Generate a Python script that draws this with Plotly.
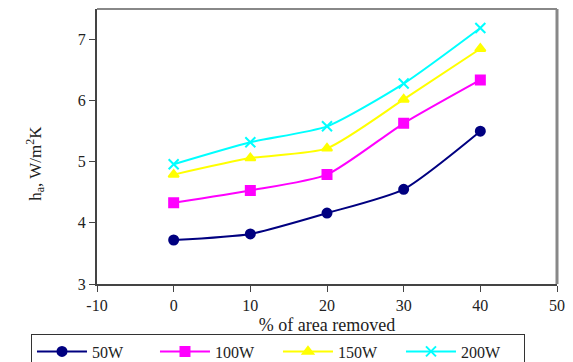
import plotly.graph_objects as go

x_vals = [0, 10, 20, 30, 40]
s50 = [3.72, 3.82, 4.16, 4.55, 5.50]
s100 = [4.33, 4.53, 4.79, 5.63, 6.34]
s150 = [4.79, 5.06, 5.22, 6.02, 6.85]
s200 = [4.96, 5.32, 5.58, 6.28, 7.19]
names = ["50W", "100W", "150W", "200W"]
colors = ["#000080", "#FF00FF", "#FFFF00", "#00FFFF"]
symbols = ["circle", "square", "triangle-up", "x-thin"]
series = [s50, s100, s150, s200]
x_ticks = [-10, 0, 10, 20, 30, 40, 50]
x_ticklabels = ["-10", "0", "10", "20", "30", "40", "50"]
y_ticks = [3, 4, 5, 6, 7]

SERIF = "Times New Roman, Liberation Serif, serif"

fig = go.Figure()
for n, c, s, y in zip(names, colors, symbols, series):
    fig.add_trace(go.Scatter(
        x=x_vals, y=y, name=n, mode="lines+markers",
        line=dict(color=c, width=2, shape="spline", smoothing=0.6),
        marker=dict(symbol=s, size=9 if s != "x-thin" else 10, color=c,
                    line=dict(color=c, width=2)),
    ))

# page body has an 8px margin, so the figure is sized to fill the rest of the window
fig.update_layout(
    width=565, height=354,
    margin=dict(l=89, r=16, t=1, b=78, autoexpand=False),
    paper_bgcolor="white", plot_bgcolor="white",
    font=dict(family=SERIF, size=16, color="#222"),
    showlegend=True,
    legend=dict(orientation="h", x=-0.1435, y=-0.18, xanchor="left", yanchor="top",
                bordercolor="#333", borderwidth=1,
                font=dict(family=SERIF, size=16, color="#222"),
                entrywidth=58, entrywidthmode="pixels", tracegroupgap=0,
                itemwidth=50),
    xaxis=dict(range=[-10, 50], tickvals=x_ticks, ticktext=x_ticklabels,
               showgrid=False, zeroline=False, showline=True, linecolor="#444",
               linewidth=2, ticks="outside", ticklen=6, tickcolor="#444",
               automargin=False,
               title=dict(text="% of area removed", standoff=5,
                          font=dict(family=SERIF, size=18))),
    yaxis=dict(range=[3, 7.5], tickvals=y_ticks,
               showgrid=False, zeroline=False, showline=True, linecolor="#444",
               linewidth=2, ticks="outside", ticklen=6, tickcolor="#444",
               automargin=False),
)
fig.add_annotation(text="h<sub>a</sub>, W/m<sup>2</sup>K", xref="paper", yref="paper",
                   x=-0.167, y=0.44, textangle=-90, showarrow=False,
                   font=dict(family=SERIF, size=17, color="#222"))
# top and right frame (grey shadow border)
fig.add_shape(type="line", xref="paper", yref="paper", x0=0, x1=1, y0=1, y1=1,
              line=dict(color="#888", width=2))
fig.add_shape(type="line", xref="paper", yref="paper", x0=1, x1=1, y0=0, y1=1,
              line=dict(color="#888", width=3))
fig.write_html("out.html")
